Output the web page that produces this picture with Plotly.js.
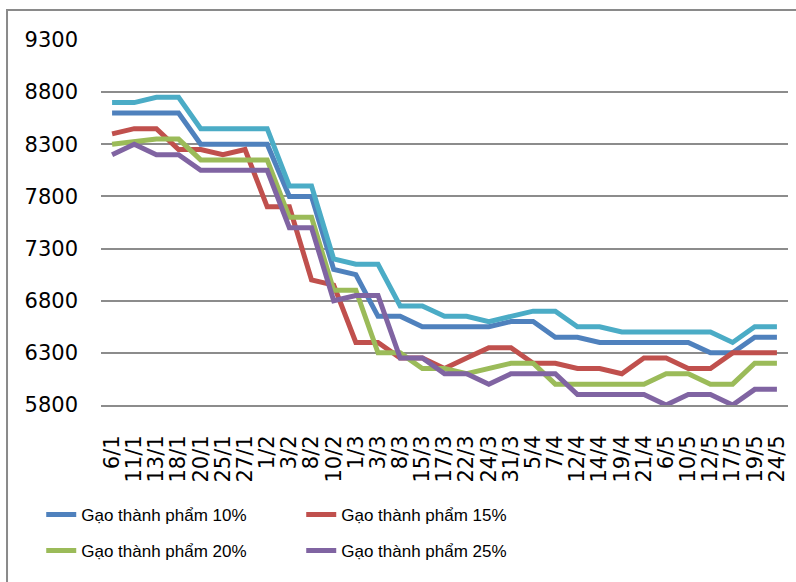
<!DOCTYPE html>
<html>
<head>
<meta charset="utf-8">
<script src="https://cdn.plot.ly/plotly-3.0.1.min.js"></script>
<style>
html,body{margin:0;padding:0;background:#fff;}
#chart{width:796px;height:582px;}
</style>
</head>
<body>
<div id="chart"></div>
<script>
var categories = ["6/1","11/1","13/1","18/1","20/1","25/1","27/1","1/2","3/2","8/2","10/2","1/3","3/3","8/3","15/3","17/3","22/3","24/3","31/3","5/4","7/4","12/4","14/4","19/4","21/4","6/5","10/5","12/5","17/5","19/5","24/5"];

var names = ["Gạo thành phẩm 10%","Gạo thành phẩm 15%","Gạo thành phẩm 20%","Gạo thành phẩm 25%","Gạo thành phẩm 5%"];

var gao10 = [8600,8600,8600,8600,8300,8300,8300,8300,7800,7800,7100,7050,6650,6650,6550,6550,6550,6550,6600,6600,6450,6450,6400,6400,6400,6400,6400,6300,6300,6450,6450];
var gao15 = [8400,8450,8450,8250,8250,8200,8250,7700,7700,7000,6950,6400,6400,6250,6250,6150,6250,6350,6350,6200,6200,6150,6150,6100,6250,6250,6150,6150,6300,6300,6300];
var gao20 = [8300,8325,8350,8350,8150,8150,8150,8150,7600,7600,6900,6900,6300,6300,6150,6150,6100,6150,6200,6200,6000,6000,6000,6000,6000,6100,6100,6000,6000,6200,6200];
var gao25 = [8200,8300,8200,8200,8050,8050,8050,8050,7500,7500,6800,6850,6850,6250,6250,6100,6100,6000,6100,6100,6100,5900,5900,5900,5900,5800,5900,5900,5800,5950,5950];
var gao5  = [8700,8700,8750,8750,8450,8450,8450,8450,7900,7900,7200,7150,7150,6750,6750,6650,6650,6600,6650,6700,6700,6550,6550,6500,6500,6500,6500,6500,6400,6550,6550];

var yTickVals = [5800,6300,6800,7300,7800,8300,8800,9300];

var colors = ["#4F81BD","#C0504D","#9BBB59","#8064A2","#4BACC6"];
var seriesList = [gao10, gao15, gao20, gao25, gao5];
var legendIds = ["legend","legend","legend2","legend2","legend"];

var traces = seriesList.map(function(vals, i){
  return {
    type: "scatter",
    mode: "lines",
    x: categories,
    y: vals,
    name: names[i],
    legend: legendIds[i],
    showlegend: i < 4,
    line: {color: colors[i], width: 5}
  };
});

var legendFont = {family: "Liberation Sans, Arial, sans-serif", size: 17, color: "#000"};

var layout = {
  width: 796,
  height: 582,
  margin: {l: 101, r: 8, t: 40, b: 177},
  paper_bgcolor: "#fff",
  plot_bgcolor: "#fff",
  showlegend: true,
  xaxis: {
    type: "category",
    range: [-0.5, categories.length - 0.5],
    tickangle: -90,
    dtick: 1,
    tick0: 0,
    showgrid: false,
    showline: true,
    linecolor: "#8c8c8c",
    linewidth: 2,
    ticks: "",
    ticklabelstandoff: 20,
    tickfont: {family: "DejaVu Sans, sans-serif", size: 21, color: "#000"},
    fixedrange: true
  },
  yaxis: {
    range: [5800, 9300],
    tickmode: "array",
    tickvals: yTickVals,
    ticktext: yTickVals.map(String),
    showgrid: true,
    gridcolor: "#8c8c8c",
    gridwidth: 2,
    zeroline: false,
    showline: false,
    ticks: "",
    ticklabelstandoff: 22,
    tickfont: {family: "DejaVu Sans, sans-serif", size: 21, color: "#000"},
    fixedrange: true
  },
  legend: {
    orientation: "h",
    x: -0.087, xanchor: "left",
    y: -0.301, yanchor: "middle",
    entrywidth: 215, entrywidthmode: "pixels",
    font: legendFont,
    bgcolor: "rgba(0,0,0,0)"
  },
  legend2: {
    orientation: "h",
    x: -0.087, xanchor: "left",
    y: -0.4, yanchor: "middle",
    entrywidth: 215, entrywidthmode: "pixels",
    font: legendFont,
    bgcolor: "rgba(0,0,0,0)"
  },
  shapes: [{
    type: "rect", xref: "paper", yref: "paper",
    x0: -0.1368, x1: 1.02, y0: -0.54, y1: 1.0822,
    line: {color: "#8a8a8a", width: 2},
    fillcolor: "rgba(0,0,0,0)",
    layer: "below"
  }]
};

Plotly.newPlot("chart", traces, layout, {displayModeBar: false, staticPlot: true});
</script>
</body>
</html>
